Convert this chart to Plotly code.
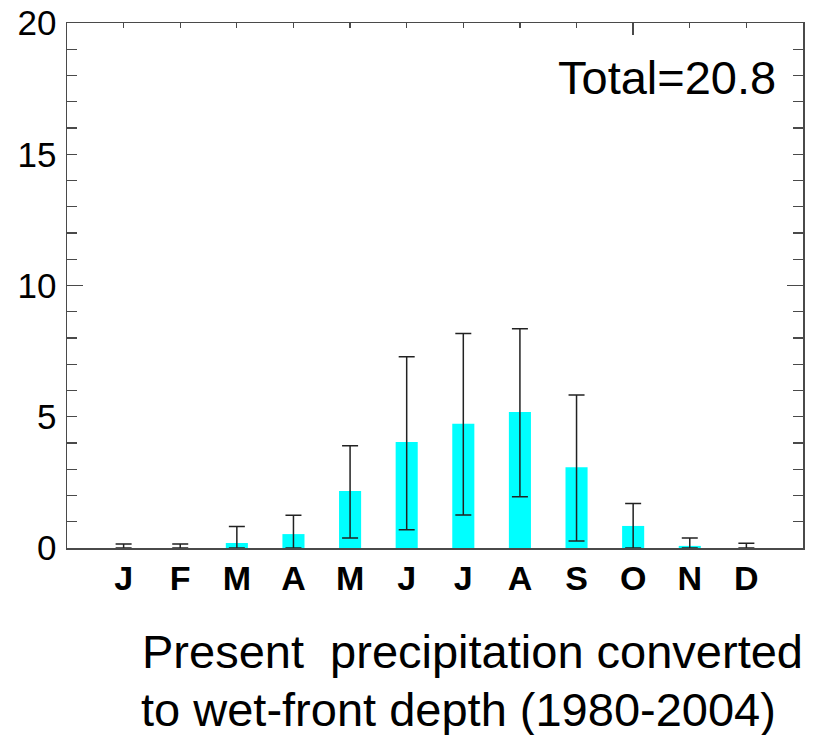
import plotly.graph_objects as go

months = ["J", "F", "M", "A", "M", "J", "J", "A", "S", "O", "N", "D"]
month_pos = [1, 2, 3, 4, 5, 6, 7, 8, 9, 10, 11, 12]
values = [0.0, 0.0, 0.19, 0.53, 2.17, 4.04, 4.73, 5.18, 3.08, 0.84, 0.08, 0.0]
err_top = [0.15, 0.15, 0.82, 1.25, 3.90, 7.29, 8.17, 8.35, 5.83, 1.70, 0.38, 0.18]
err_bottom = [0.0, 0.0, 0.0, 0.0, 0.38, 0.70, 1.26, 1.95, 0.27, 0.0, 0.0, 0.0]
total_label = "Total=20.8"
caption_1 = "Present  precipitation converted"
caption_2 = "to wet-front depth (1980-2004)"

FONT = "Liberation Sans, Arial, sans-serif"
AXC = "#4a4a4a"

plus = [t - v for t, v in zip(err_top, values)]
minus = [v - b for v, b in zip(values, err_bottom)]

fig = go.Figure()
fig.add_trace(go.Bar(
    x=month_pos, y=values, width=0.39,
    marker=dict(color="#00FFFF", line=dict(width=0)),
    error_y=dict(type="data", symmetric=False, array=plus, arrayminus=minus,
                 color="#222222", thickness=1.5, width=8),
    showlegend=False, hoverinfo="skip",
))
# invisible helper traces so the overlay axes are drawn
fig.add_trace(go.Scatter(x=[0], y=[0], xaxis="x2", yaxis="y", mode="markers",
                         marker=dict(opacity=0), showlegend=False, hoverinfo="skip"))
fig.add_trace(go.Scatter(x=[0], y=[0], xaxis="x", yaxis="y2", mode="markers",
                         marker=dict(opacity=0), showlegend=False, hoverinfo="skip"))

fig.update_layout(
    width=820, height=735,
    margin=dict(l=67, r=17, t=23, b=187, autoexpand=False),
    paper_bgcolor="white", plot_bgcolor="white",
    font=dict(family=FONT, color="black"),
    xaxis=dict(
        range=[0, 13], tickvals=month_pos, ticktext=months, ticks="",
        showline=True, linecolor=AXC, linewidth=1.5, showgrid=False, zeroline=False,
        tickfont=dict(size=34, family=FONT, weight="bold", color="black"),
        ticklabelstandoff=0, automargin=False,
    ),
    xaxis2=dict(
        overlaying="x", side="top", anchor="y", range=[0, 13],
        tick0=0, dtick=10, ticks="inside", ticklen=12, tickcolor=AXC, tickwidth=1.5,
        minor=dict(dtick=1, tick0=0, ticks="inside", ticklen=5, tickcolor=AXC, tickwidth=1.2),
        showticklabels=False, showline=True, linecolor=AXC, linewidth=1.5,
        showgrid=False, zeroline=False, automargin=False,
    ),
    yaxis=dict(
        range=[0, 20], tick0=0, dtick=5, ticks="inside", ticklen=10, tickcolor=AXC, tickwidth=1.2,
        minor=dict(dtick=1, tick0=0, ticks="inside", ticklen=10, tickcolor=AXC, tickwidth=1.2),
        mirror="ticks", showline=True, linecolor=AXC, linewidth=1.5,
        showgrid=False, zeroline=False,
        tickfont=dict(size=35, family=FONT, color="black"),
        ticklabelstandoff=2, ticklabeloverflow="allow", automargin=False,
    ),
    yaxis2=dict(
        overlaying="y", side="left", anchor="x", range=[0, 20],
        tick0=0, dtick=10, ticks="inside", ticklen=16, tickcolor=AXC, tickwidth=1.5,
        mirror="ticks", showline=True, linecolor=AXC, linewidth=1.5,
        showticklabels=False, showgrid=False, zeroline=False, automargin=False,
    ),
    annotations=[
        dict(text=total_label, xref="paper", yref="paper", x=0.966, y=0.896,
             xanchor="right", yanchor="middle", showarrow=False,
             font=dict(size=47, family=FONT, color="black")),
        dict(text=caption_1, xref="paper", yref="paper", x=0.0992, y=-0.198,
             xanchor="left", yanchor="middle", showarrow=False,
             font=dict(size=47, family=FONT, color="black")),
        dict(text=caption_2, xref="paper", yref="paper", x=0.0992, y=-0.307,
             xanchor="left", yanchor="middle", showarrow=False, borderpad=0,
             font=dict(size=47, family=FONT, color="black")),
    ],
)

# remove the browser's default 8px body margin so the figure fills the window
fig.write_html("out.html",
               config={"displayModeBar": False, "staticPlot": True},
               post_script="document.body.style.margin='0';document.body.style.overflow='hidden';")
